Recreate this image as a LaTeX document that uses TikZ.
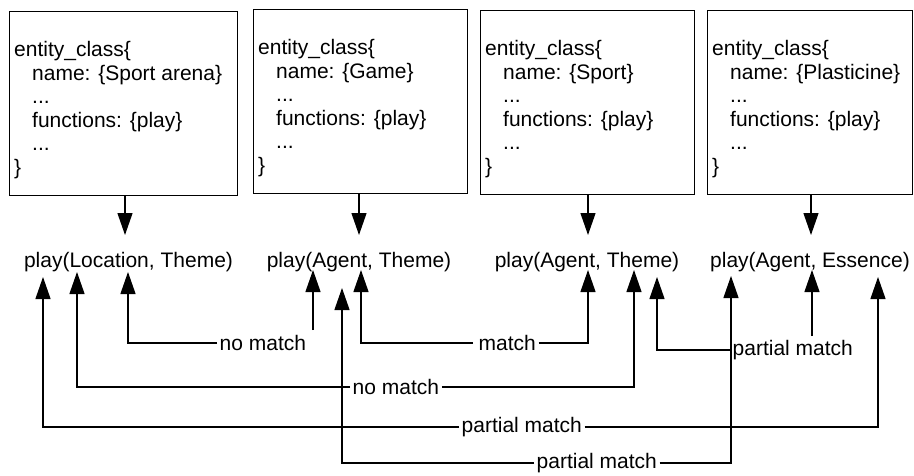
\documentclass[tikz,border=0pt]{standalone}
\usepackage{fontspec}
\setmainfont{Liberation Sans}
\usetikzlibrary{arrows.meta}
\begin{document}
\begin{tikzpicture}[x=1pt,y=-1pt,
  every node/.style={font=\fontsize{21}{23.6}\selectfont},
  classbox/.style={draw, line width=1.2pt, minimum width=#1, minimum height=184pt,
    anchor=north west, inner sep=0pt},
  classtext/.style={anchor=north west, inner sep=0pt, align=left},
  call/.style={anchor=base, inner sep=0pt},
  lbl/.style={anchor=west, inner xsep=2.5pt, inner ysep=0pt},
  wire/.style={line width=1.2pt},
  arr/.style={wire, -{Triangle[length=22pt, width=15pt]}}]

% canvas
\fill[white] (0,0) rectangle (914,475);
\useasboundingbox (0,0) rectangle (914,475);

% entity class boxes
\node[classbox=228pt] (b1) at (9,11) {};
\node[classbox=214pt] (b2) at (253,9) {};
\node[classbox=214pt] (b3) at (480,10) {};
\node[classbox=205pt] (b4) at (707,10) {};

\newcommand{\ind}{\hspace*{18pt}}
\node[classtext] (t1) at ([xshift=5pt,yshift=-30pt]b1.north west)
  {entity\_class\{\\ \ind name: \{Sport arena\}\\ \ind ...\\ \ind functions: \{play\}\\ \ind ...\\ \}};
\node[classtext] (t2) at ([xshift=5pt,yshift=-30pt]b2.north west)
  {entity\_class\{\\ \ind name: \{Game\}\\ \ind ...\\ \ind functions: \{play\}\\ \ind ...\\ \}};
\node[classtext] (t3) at ([xshift=5pt,yshift=-30pt]b3.north west)
  {entity\_class\{\\ \ind name: \{Sport\}\\ \ind ...\\ \ind functions: \{play\}\\ \ind ...\\ \}};
\node[classtext] (t4) at ([xshift=5pt,yshift=-30pt]b4.north west)
  {entity\_class\{\\ \ind name: \{Plasticine\}\\ \ind ...\\ \ind functions: \{play\}\\ \ind ...\\ \}};

% predicate frames
\node[call] (p1) at (128.5,267) {play(Location, Theme)};
\node[call] (p2) at (359,267) {play(Agent, Theme)};
\node[call] (p3) at (587,267) {play(Agent, Theme)};
\node[call] (p4) at (810,267) {play(Agent, Essence)};

% arrows from the boxes to their frames
\coordinate (d1) at (125,235);
\coordinate (d2) at (359,235);
\coordinate (d3) at (588,235);
\coordinate (d4) at (811,235);
\draw[arr] (b1.south -| d1) -- (d1);
\draw[arr] (b2.south -| d2) -- (d2);
\draw[arr] (b3.south -| d3) -- (d3);
\draw[arr] (b4.south -| d4) -- (d4);

% argument tips under the frames
\coordinate (tA) at (43,277);
\coordinate (tB) at (77,272);
\coordinate (tC) at (128,272);
\coordinate (tD) at (313,270);
\coordinate (tE) at (342,288);
\coordinate (tF) at (361,270);
\coordinate (tG) at (588,270);
\coordinate (tH) at (634,270);
\coordinate (tI) at (657,277);
\coordinate (tJ) at (731,276);
\coordinate (tK) at (812,270);
\coordinate (tL) at (878,277);
\coordinate (sD) at (313,330);
\coordinate (sK) at (812,336);

% comparison labels
\node[lbl] (nm1) at (217,343) {no match};
\node[lbl] (m1)  at (476,343) {match};
\node[lbl] (pm1) at (730,350) {partial match};
\node[lbl] (nm2) at (350,387) {no match};
\node[lbl] (pm2) at (459,427) {partial match};
\node[lbl] (pm3) at (534,463) {partial match};

% connectors
\draw[arr] (nm1.west) -| (tC);
\draw[arr] (sD) -- (tD);

\draw[arr] ([xshift=-3pt]m1.west) -| (tF);
\draw[arr] (m1.east) -| (tG);

\draw[arr] (pm1.west) -| (tI);
\draw[arr] (sK) -- (tK);

\draw[arr] (nm2.west) -| (tB);
\draw[arr] (nm2.east) -| (tH);

\draw[arr] (pm2.west) -| (tA);
\draw[arr] (pm2.east) -| (tL);

\draw[arr] (pm3.west) -| (tE);
\draw[arr] (pm3.east) -| (tJ);
\end{tikzpicture}
\end{document}
